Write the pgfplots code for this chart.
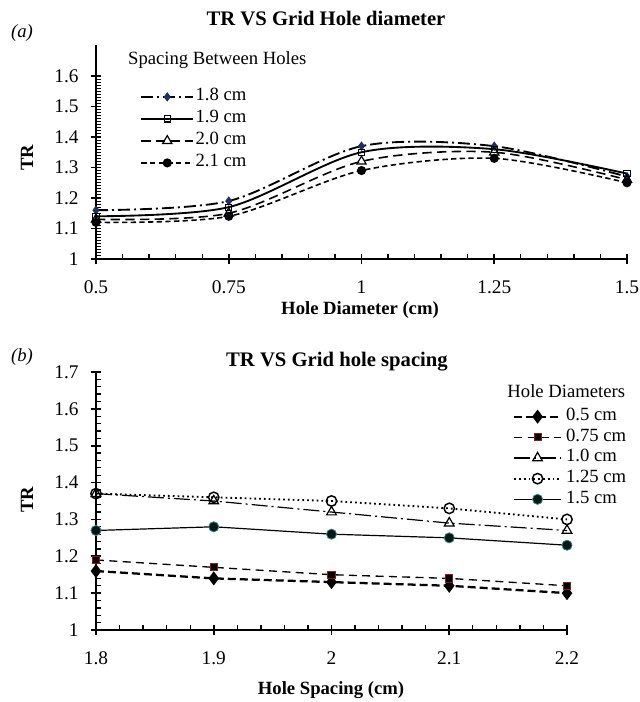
\documentclass[border=0pt]{standalone}
\usepackage{pgfplots}
\pgfplotsset{compat=1.18}
\usepackage{fontspec}
\setmainfont{Liberation Serif}
\definecolor{navy}{HTML}{1F2F5F}
\definecolor{dred}{HTML}{8B1A1A}
\definecolor{dteal}{HTML}{2E8B8B}
\begin{document}
\begin{tikzpicture}[x=0.75pt,y=0.75pt]
\useasboundingbox (0,0) rectangle (639,702);
\pgfplotsset{
  every axis/.append style={
    scale only axis,
    axis lines=left,
    axis line style={line width=1.5pt,-},
    tick align=center,
    major tick length=8pt,
    minor tick length=4pt,
    every tick/.style={black,line width=1.3pt},
    every minor tick/.style={black,line width=1pt},
    every minor x tick/.style={yshift=2pt},
    every minor y tick/.style={xshift=2pt},
    tick label style={font=\fontsize{14.5}{16}\selectfont},
    xticklabel style={yshift=-8.5pt},
    yticklabel style={xshift=-5.5pt},
    /pgf/number format/assume math mode=true,
    clip=false,
  },
}
% ---------------- (a) ----------------
\begin{axis}[
  at={(72pt,332.25pt)}, anchor=south west,
  width=398.25pt, height=160.125pt,
  xmin=0.5, xmax=1.5, ymin=1, ymax=1.7,
  xtick={0.5,0.75,1,1.25,1.5},
  xticklabels={0.5,0.75,1,1.25,1.5},
  ytick={1,1.1,1.2,1.3,1.4,1.5,1.6},
  yticklabels={1,1.1,1.2,1.3,1.4,1.5,1.6},
  minor x tick num=4, minor y tick num=9,
  every minor y tick/.style={xshift=1.5pt},
  minor y tick style={line width=0.8pt},
  legend style={draw=none, fill=none, at={(0.083,0.812)}, anchor=north west,
    font=\fontsize{14}{17}\selectfont, row sep=0pt, inner sep=0pt,
    nodes={text height=11pt, text depth=5.5pt, inner ysep=0pt, inner xsep=1pt}},
  legend cell align=left,
  legend image code/.code={\draw[mark repeat=2,mark phase=2] plot coordinates {(0pt,0pt) (19.5pt,0pt) (39pt,0pt)};},
]
\addplot[smooth, black, line width=1.4pt, dash pattern=on 9pt off 3pt on 1.5pt off 3pt, mark=diamond*, mark size=2.4pt, mark options={solid,fill=navy,draw=navy}]
  coordinates {(0.5,1.16) (0.75,1.19) (1,1.37) (1.25,1.37) (1.5,1.27)};
\addlegendentry{1.8 cm}
\addplot[smooth, black, line width=1.4pt, mark=square, mark size=2.3pt, mark options={solid,fill=white,line width=0.8pt}]
  coordinates {(0.5,1.14) (0.75,1.17) (1,1.35) (1.25,1.36) (1.5,1.28)};
\addlegendentry{1.9 cm}
\addplot[smooth, black, line width=1.2pt, dash pattern=on 7pt off 4pt, mark=triangle, mark size=4pt, mark options={solid,fill=white,line width=0.9pt}]
  coordinates {(0.5,1.13) (0.75,1.15) (1,1.32) (1.25,1.35) (1.5,1.26)};
\addlegendentry{2.0 cm}
\addplot[smooth, black, line width=1.2pt, dash pattern=on 4pt off 2.5pt, mark=*, mark size=2.8pt, mark options={solid,fill=black!85!navy}]
  coordinates {(0.5,1.12) (0.75,1.14) (1,1.29) (1.25,1.33) (1.5,1.25)};
\addlegendentry{2.1 cm}
\node[anchor=west, inner sep=0pt, font=\fontsize{14}{17}\selectfont] at (axis description cs:0.060,0.932) {Spacing Between Holes};
\end{axis}
\node[font=\bfseries\fontsize{15.5}{18}\selectfont] at (326,684) {TR VS Grid Hole diameter};
\node[font=\itshape\fontsize{14}{17}\selectfont] at (22,669) {(a)};
\node[rotate=90, font=\bfseries\fontsize{14}{17}\selectfont] at (27,544) {TR};
\node[font=\bfseries\fontsize{14}{17}\selectfont] at (360,392) {Hole Diameter (cm)};
% ---------------- (b) ----------------
\begin{axis}[
  at={(72pt,54pt)}, anchor=south west,
  width=353.25pt, height=193.5pt,
  xmin=1.8, xmax=2.2, ymin=1, ymax=1.7,
  xtick={1.8,1.9,2,2.1,2.2},
  xticklabels={1.8,1.9,2,2.1,2.2},
  ytick={1,1.1,1.2,1.3,1.4,1.5,1.6,1.7},
  yticklabels={1,1.1,1.2,1.3,1.4,1.5,1.6,1.7},
  minor x tick num=4, minor y tick num=4,
  legend style={draw=none, fill=none, at={(0.885,0.868)}, anchor=north west,
    font=\fontsize{14}{15}\selectfont, row sep=0pt, inner sep=0pt,
    nodes={text height=10.7pt, text depth=4.8pt, inner ysep=0pt, inner xsep=3pt}},
  legend cell align=left,
  legend image code/.code={\draw[mark repeat=2,mark phase=2] plot coordinates {(0pt,0pt) (17.5pt,0pt) (35pt,0pt)};},
]
\addplot[black, line width=1.7pt, dash pattern=on 6pt off 3pt, mark=diamond*, mark size=3.9pt, mark options={solid,fill=black}]
  coordinates {(1.8,1.16) (1.9,1.14) (2,1.13) (2.1,1.12) (2.2,1.10)};
\addlegendentry{0.5 cm}
\addplot[black, line width=1pt, dash pattern=on 6pt off 4pt, mark=square*, mark size=2.7pt, mark options={solid,fill=black,draw=dred,line width=0.7pt}]
  coordinates {(1.8,1.19) (1.9,1.17) (2,1.15) (2.1,1.14) (2.2,1.12)};
\addlegendentry{0.75 cm}
\addplot[black, line width=0.9pt, dash pattern=on 12pt off 3pt on 1.5pt off 3pt, mark=triangle, mark size=4.2pt, mark options={solid,fill=white,line width=0.9pt}]
  coordinates {(1.8,1.37) (1.9,1.35) (2,1.32) (2.1,1.29) (2.2,1.27)};
\addlegendentry{1.0 cm}
\addplot[black, line width=1.4pt, dash pattern=on 1.3pt off 2.3pt, mark=o, mark size=3.9pt, mark options={solid,fill=white,line width=1.1pt}]
  coordinates {(1.8,1.37) (1.9,1.36) (2,1.35) (2.1,1.33) (2.2,1.30)};
\addlegendentry{1.25 cm}
\addplot[black, line width=0.9pt, mark=*, mark size=3.8pt, mark options={solid,fill=black!85!dteal,draw=dteal,line width=0.6pt}]
  coordinates {(1.8,1.27) (1.9,1.28) (2,1.26) (2.1,1.25) (2.2,1.23)};
\addlegendentry{1.5 cm}
\node[anchor=west, inner sep=0pt, font=\fontsize{14}{17}\selectfont] at (axis description cs:0.873,0.926) {Hole Diameters};
\end{axis}
\node[font=\bfseries\fontsize{15.5}{18}\selectfont] at (337,340) {TR VS Grid hole spacing};
\node[font=\itshape\fontsize{14}{17}\selectfont] at (22,345) {(b)};
\node[rotate=90, font=\bfseries\fontsize{14}{17}\selectfont] at (27,202) {TR};
\node[font=\bfseries\fontsize{14}{17}\selectfont] at (331,12) {Hole Spacing (cm)};
\end{tikzpicture}
\end{document}
